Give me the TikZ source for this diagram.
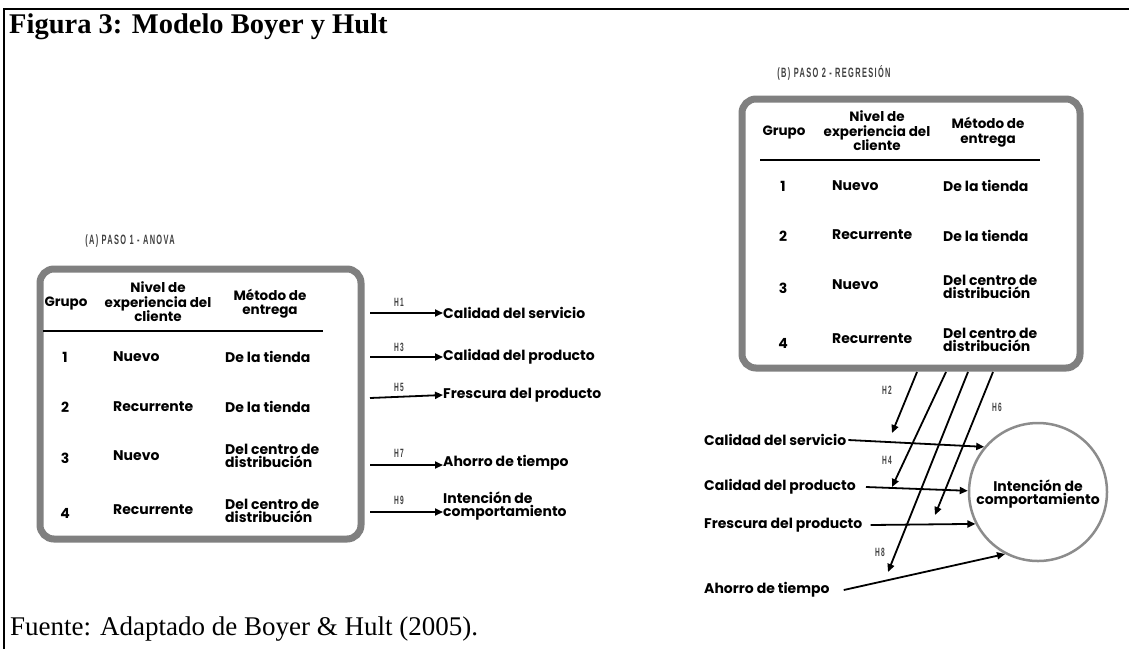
\documentclass[tikz,border=0pt]{standalone}
\usepackage{fontspec}
\setmainfont{Liberation Serif}
\newfontfamily\pop{Poppins}
\newfontfamily\cond{Liberation Sans}[FakeStretch=0.55,LetterSpace=10]
\usetikzlibrary{arrows.meta}

\begin{document}
\begin{tikzpicture}[x=1pt,y=-1pt,
  txt/.style={font=\pop\bfseries\fontsize{14}{13}\selectfont,inner sep=0pt,align=left},
  hdr/.style={font=\pop\bfseries\fontsize{13.5}{14.5}\selectfont,inner sep=0pt,align=center},
  hyp/.style={font=\cond\bfseries\fontsize{12}{12}\selectfont,text=black!75,inner sep=0pt},
  steplabel/.style={font=\cond\bfseries\fontsize{13.5}{13.5}\selectfont,text=black!75,inner sep=0pt},
  panel/.style={draw=black!50,line width=7pt,rounded corners=14pt},
  rule/.style={line width=2.4pt},
  arr/.style={-{Triangle[length=8pt,width=7pt]},line width=1.8pt},
  frame/.style={line width=2pt}]
\useasboundingbox (0,0) rectangle (1129,649);

% outer frame (top and left only)
\draw[frame] (1129,9) -- (4,9) -- (4,649);

% title and source
\node[anchor=base west,inner sep=0pt,font=\bfseries\fontsize{28.5}{28.5}\selectfont] (title) at (9,33) {Figura 3: Modelo Boyer y Hult};
\node[anchor=base west,inner sep=0pt,font=\fontsize{27}{27}\selectfont] (src) at (10,635) {Fuente: Adaptado de Boyer \& Hult (2005).};

% ---------- (A) step 1: ANOVA ----------
\node[steplabel] (capA) at (130,241) {(A) PASO 1 - ANOVA};
\draw[panel] (40,269) rectangle (361,539);

\node[hdr] (a-g) at (66,303) {Grupo};
\node[hdr] (a-n) at (158,302) {Nivel de\\experiencia del\\cliente};
\node[hdr] (a-m) at (270,303.5) {Método de\\entrega};
\draw[rule] (43,331) -- (323,331);

\node[txt] (a1) at (65,357) {1};
\node[txt,anchor=west] (a1n) at (113,357) {Nuevo};
\node[txt,anchor=west] (a1m) at (225,357) {De la tienda};
\node[txt] (a2) at (65,407) {2};
\node[txt,anchor=west] (a2n) at (113,407) {Recurrente};
\node[txt,anchor=west] (a2m) at (225,407) {De la tienda};
\node[txt] (a3) at (65,458) {3};
\node[txt,anchor=west] (a3n) at (113,456) {Nuevo};
\node[txt,anchor=west] (a3m) at (225,456) {Del centro de\\distribución};
\node[txt] (a4) at (65,513) {4};
\node[txt,anchor=west] (a4n) at (113,510) {Recurrente};
\node[txt,anchor=west] (a4m) at (225,511) {Del centro de\\distribución};

% outcomes of step 1
\node[txt,anchor=west] (o1) at (443,313) {Calidad del servicio};
\node[txt,anchor=west] (o2) at (443,357) {Calidad del producto};
\node[txt,anchor=west] (o3) at (443,395) {Frescura del producto};
\node[txt,anchor=west] (o4) at (443,463) {Ahorro de tiempo};
\node[txt,anchor=west] (o5) at (443,506) {Intención de\\comportamiento};

\coordinate (s1) at (370,313);
\coordinate (s2) at (370,357);
\coordinate (s3) at (370,398);
\coordinate (s4) at (370,465);
\coordinate (s5) at (370,512);
\draw[arr] (s1) -- (o1.west);
\draw[arr] (s2) -- (o2.west);
\draw[arr] (s3) -- (o3.west);
\draw[arr] (s4) -- (o4.west |- s4);
\draw[arr] (s5) -- (o5.west |- s5);
\node[hyp] (h1) at (399,302) {H1};
\node[hyp] (h3) at (399,347) {H3};
\node[hyp] (h5) at (399,387) {H5};
\node[hyp] (h7) at (399,453) {H7};
\node[hyp] (h9) at (399,500) {H9};

% ---------- (B) step 2: regression ----------
\node[steplabel] (capB) at (834,73) {(B) PASO 2 - REGRESIÓN};
\draw[panel] (742,99) rectangle (1080,368);

\node[hdr] (b-g) at (784,132) {Grupo};
\node[hdr] (b-n) at (877,131) {Nivel de\\experiencia del\\cliente};
\node[hdr] (b-m) at (988,132) {Método de\\entrega};
\draw[rule] (760,160) -- (1040,160);

\node[txt] (b1) at (783,186) {1};
\node[txt,anchor=west] (b1n) at (832,186) {Nuevo};
\node[txt,anchor=west] (b1m) at (943,186) {De la tienda};
\node[txt] (b2) at (783,236) {2};
\node[txt,anchor=west] (b2n) at (832,235) {Recurrente};
\node[txt,anchor=west] (b2m) at (943,236) {De la tienda};
\node[txt] (b3) at (783,288) {3};
\node[txt,anchor=west] (b3n) at (832,285) {Nuevo};
\node[txt,anchor=west] (b3m) at (943,287) {Del centro de\\distribución};
\node[txt] (b4) at (783,343) {4};
\node[txt,anchor=west] (b4n) at (832,339) {Recurrente};
\node[txt,anchor=west] (b4m) at (943,340) {Del centro de\\distribución};

% dependent variable
\node[circle,draw=black!45,line width=2.5pt,minimum size=138pt,inner sep=0pt] (ic) at (1038,492) {};
\node[txt,align=center] (icl) at (1038,494) {Intención de\\comportamiento};

% predictors
\node[txt,anchor=west] (p1) at (704,440) {Calidad del servicio};
\node[txt,anchor=west] (p2) at (704,487) {Calidad del producto};
\node[txt,anchor=west] (p3) at (704,525) {Frescura del producto};
\node[txt,anchor=west] (p4) at (704,590) {Ahorro de tiempo};

\draw[arr] ([xshift=2pt]p1.east) -- (ic.140);
\draw[arr] ([xshift=10pt]p2.east) -- (ic.179);
\draw[arr] ([xshift=8pt]p3.east) -- (ic.207);
\draw[arr] ([xshift=14pt]p4.east) -- (ic.242);

% mediating paths from the groups
\coordinate (d1) at (917,372);
\coordinate (d2) at (946,372);
\coordinate (d3) at (968,372);
\coordinate (d4) at (993,372);
\coordinate (e1) at (892,433);
\coordinate (e2) at (892,487);
\coordinate (e3) at (888,572);
\coordinate (e4) at (935,515);
\draw[arr] (d1) -- (e1);
\draw[arr] (d2) -- (e2);
\draw[arr] (d3) -- (e3);
\draw[arr] (d4) -- (e4);
\node[hyp] (h2) at (887,390) {H2};
\node[hyp] (h4) at (887,460) {H4};
\node[hyp] (h8) at (880,552) {H8};
\node[hyp] (h6) at (997,407) {H6};
\end{tikzpicture}
\end{document}
